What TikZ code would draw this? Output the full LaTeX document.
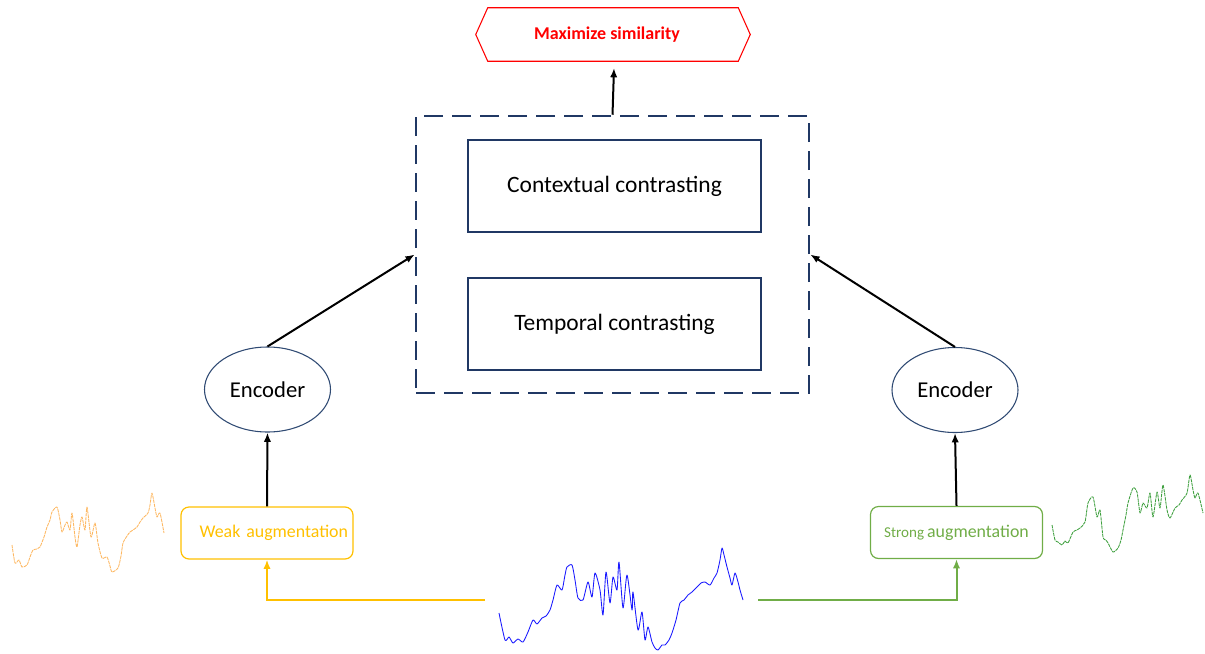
\documentclass[tikz,border=0pt]{standalone}
\usepackage{fontspec}
\setmainfont{Carlito}
\usetikzlibrary{arrows.meta,shapes.geometric,calc}
\definecolor{navy}{HTML}{203864}
\definecolor{ellb}{HTML}{2F4A73}
\definecolor{redc}{HTML}{FF0000}
\definecolor{yel}{HTML}{FFC000}
\definecolor{grn}{HTML}{70AD47}
\definecolor{sigor}{HTML}{FDB863}
\definecolor{siggr}{HTML}{3FA03F}
\definecolor{sigbl}{HTML}{1A1AFF}
\tikzset{
  arr/.style={line width=1.5pt,-{Latex[length=7pt,width=5.5pt]}},
  innerbox/.style={draw=navy,line width=0.8pt,minimum width=219.75pt,minimum height=69pt,font=\fontsize{17.6}{20}\selectfont},
  enc/.style={draw=ellb,line width=0.8pt,ellipse,minimum width=94.5pt,minimum height=63.75pt,inner sep=0pt,font=\fontsize{17}{20}\selectfont},
  augbox/.style={line width=0.9pt,rounded corners=6pt,minimum width=129pt,minimum height=39pt,inner sep=0pt},
  sig/.style={line width=0.65pt,line join=round}
}
\begin{document}
\begin{tikzpicture}[x=0.75pt,y=-0.75pt]
\useasboundingbox (0,0) rectangle (1205,653);
% hexagon
\node[minimum width=187.5pt,minimum height=39.75pt,inner sep=0pt,text=redc,font=\fontsize{13.5}{16}\selectfont\bfseries] (max) at (613,34.5) {Maximize similarity\kern9pt};
\draw[redc,line width=0.8pt] (max.north west) -- (max.north east) -- ($(max.east)+(12,0)$) -- (max.south east) -- (max.south west) -- ($(max.west)+(-12,0)$) -- cycle;
\coordinate (maxin) at (614,68);
% dashed box
\node[draw=navy,line width=1.9pt,dash pattern=on 14pt off 7pt,minimum width=294.75pt,minimum height=207.75pt] (cbox) at (612.5,254.5) {};
\node[innerbox] (ctx) at (614.5,186) {Contextual contrasting};
\node[innerbox] (tmp) at (614.5,324) {Temporal contrasting};
\draw[arr] (cbox.north) -- (maxin);
% encoders
\node[enc] (encL) at (267.5,389.5) {Encoder};
\node[enc] (encR) at (955,390) {Encoder};
\draw[arr] (encL.north) -- (cbox.west);
\draw[arr] (encR.north) -- (cbox.east);
% augmentation boxes
\node[augbox,draw=yel,text=yel,text width=121.5pt,align=right,font=\fontsize{13.4}{16}\selectfont] (weak) at (267,533) {Weak augmentation};
\node[augbox,draw=grn,text=grn] (strong) at (956.5,532.5) {{\fontsize{11.3}{16}\selectfont Strong} {\fontsize{13.4}{16}\selectfont augmentation}};
\draw[arr] (weak.north) -- (encL.south);
\draw[arr] (strong.north) -- (encR.south);
% input connectors
\coordinate (yl) at (485,600);
\coordinate (gl) at (758,600);
\draw[yel,line width=1.5pt,-{Latex[length=7pt,width=5.5pt]}] (yl) -| (weak.south);
\draw[grn,line width=1.5pt,-{Latex[length=7pt,width=5.5pt]}] (gl) -| (strong.south);
% blue signal
\draw[sig,sigbl] plot[smooth,tension=0.4] coordinates {
(499,613)(505,640)(509,637)(513,643)(518,639)(523,642)(528,632)(533,620)(537,624)(542,618)(546,616)(550,610)(553,600)(557,585)(562,590)(565,575)(567,567)(572,565)(575,580)(578,598)(583,600)(588,582)(592,597)(595,573)(600,590)(603,615)(606,572)(610,603)(613,577)(617,590)(619,562)(623,608)(627,575)(632,610)(633,592)(638,630)(642,612)(645,640)(648,627)(652,642)(655,648)(658,650)(662,645)(665,645)(669,640)(672,633)(676,620)(680,603)(684,600)(688,595)(692,592)(697,587)(701,583)(705,582)(710,585)(714,578)(717,573)(720,560)(722,548)(724,555)(727,567)(730,578)(732,585)(735,573)(738,582)(740,590)(743,600)};
% orange signal
\draw[sig,sigor,dash pattern=on 2.5pt off 0.6pt] plot[smooth,tension=0.4] coordinates {
(12,545)(15,563)(19,560)(22,567)(27,565)(30,557)(33,550)(37,549)(40,547)(44,537)(47,527)(50,520)(52,512)(57,507)(60,520)(62,532)(65,525)(67,522)(70,530)(72,513)(75,537)(77,547)(80,525)(82,517)(85,530)(87,507)(91,537)(95,523)(98,543)(102,558)(107,557)(110,566)(112,572)(118,568)(121,556)(123,543)(127,536)(130,532)(133,530)(137,527)(140,522)(143,518)(148,513)(150,505)(152,493)(155,508)(157,517)(160,513)(164,533)};
% green signal
\draw[sig,siggr,dash pattern=on 2.5pt off 0.6pt] plot[smooth,tension=0.4] coordinates {
(1052,525)(1055,540)(1058,542)(1062,545)(1065,541)(1068,543)(1073,532)(1077,530)(1080,528)(1085,522)(1088,503)(1093,497)(1097,517)(1100,510)(1103,537)(1106,540)(1108,543)(1113,552)(1118,548)(1121,540)(1123,530)(1126,515)(1128,503)(1133,488)(1137,492)(1140,513)(1143,503)(1147,508)(1150,493)(1153,517)(1157,492)(1160,508)(1163,485)(1167,510)(1170,518)(1175,508)(1179,505)(1182,500)(1187,493)(1190,475)(1193,490)(1195,498)(1198,493)(1203,513)};
\end{tikzpicture}
\end{document}
